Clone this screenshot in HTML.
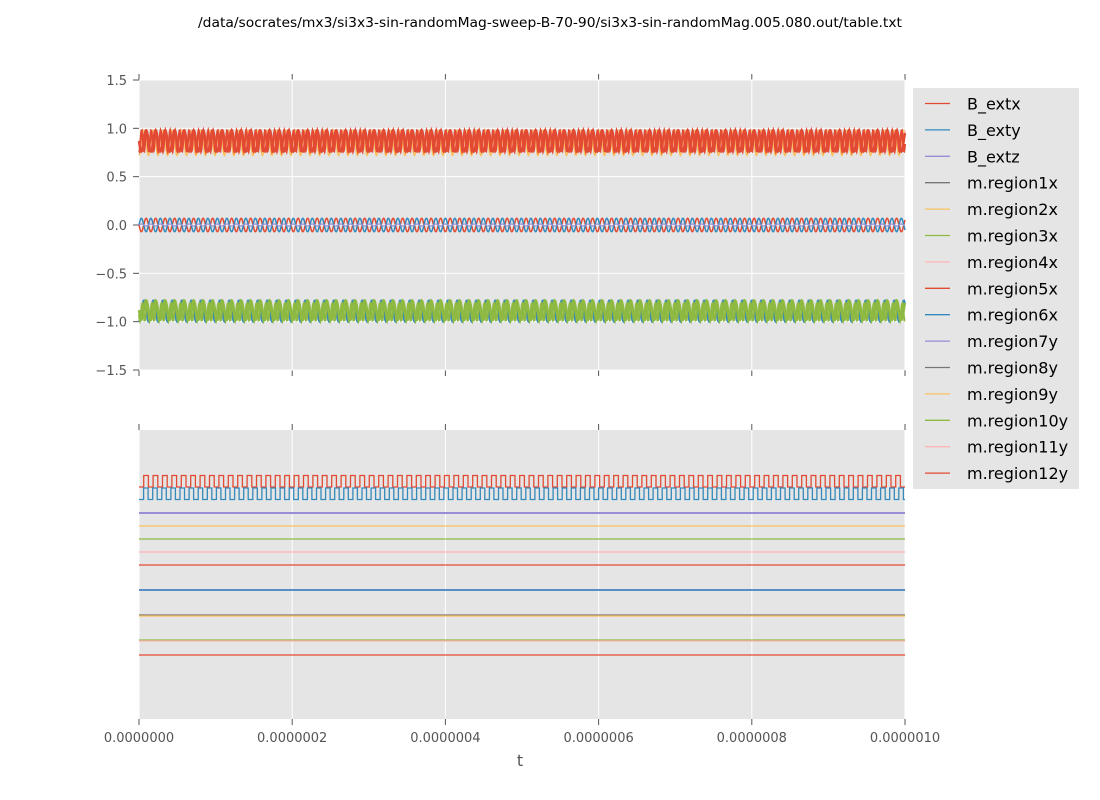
<!DOCTYPE html>
<html><head><meta charset="utf-8"><style>
body{margin:0;background:#fff;}
svg{display:block;font-family:"DejaVu Sans","Liberation Sans",sans-serif;}
</style></head><body>
<svg id="s" width="1100" height="800" xmlns="http://www.w3.org/2000/svg">
<text x="550" y="27" font-size="13" text-anchor="middle" textLength="704" lengthAdjust="spacingAndGlyphs">/data/socrates/mx3/si3x3-sin-randomMag-sweep-B-70-90/si3x3-sin-randomMag.005.080.out/table.txt</text>
<rect x="139" y="80" width="766" height="290" fill="#e5e5e5"/>
<rect x="139" y="430" width="766" height="289" fill="#e5e5e5"/>
<g id="g"></g>
<text x="520" y="766" font-size="16" fill="#555" text-anchor="middle">t</text>
</svg>
<script>
const g=document.getElementById('g');let h='';
const X0=139,X1=905;
const xs=[139,292.2,445.4,598.6,751.8,905];
const xl=['0.0000000','0.0000002','0.0000004','0.0000006','0.0000008','0.0000010'];
xs.forEach((x,i)=>{
 h+=`<line x1="${x}" y1="80" x2="${x}" y2="370" stroke="#fff"/>`;
 h+=`<line x1="${x}" y1="430" x2="${x}" y2="719" stroke="#fff"/>`;
 h+=`<line x1="${x}" y1="74" x2="${x}" y2="80" stroke="#555"/><line x1="${x}" y1="370" x2="${x}" y2="376" stroke="#555"/>`;
 h+=`<line x1="${x}" y1="424" x2="${x}" y2="430" stroke="#555"/><line x1="${x}" y1="719" x2="${x}" y2="725" stroke="#555"/>`;
 h+=`<text x="${x}" y="742" font-size="13" fill="#555" text-anchor="middle">${xl[i]}</text>`;
});
const yv=[1.5,1,0.5,0,-0.5,-1,-1.5],yl=['1.5','1.0','0.5','0.0','\u22120.5','\u22121.0','\u22121.5'];
const Y=v=>225-v*96.67;
yv.forEach((v,i)=>{const y=Y(v);
 h+=`<line x1="139" y1="${y}" x2="905" y2="${y}" stroke="#fff"/><line x1="133" y1="${y}" x2="139" y2="${y}" stroke="#555"/>`;
 h+=`<text x="127" y="${y+5}" font-size="13" fill="#555" text-anchor="end">${yl[i]}</text>`;});
function poly(f,c,w,step=0.5){let p=[];for(let x=X0;x<=X1;x+=step)p.push(x.toFixed(1)+','+f(x).toFixed(1));return `<polyline points="${p.join(' ')}" fill="none" stroke="${c}" stroke-width="${w||1.2}"/>`;}
const P=9.5,T=x=>2*Math.PI*(x-X0)/P;
// lower band
h+=poly(x=>Y(-0.89-0.11*Math.sin(T(x)+1)),'#777777',1.5);
h+=poly(x=>Y(-0.89-0.11*Math.cos(T(x))),'#348ABD',1.8);
h+=poly(x=>Y(-0.88-0.1*Math.sin(T(x))),'#8EBA42',2.5);
h+=poly(x=>Y(-0.9-0.09*Math.sin(2*T(x)+0.3)),'#8EBA42',2);
// middle sines
h+=poly(x=>Y(0.07*Math.sin(T(x)+Math.PI)),'#E24A33',1.5);
h+=poly(x=>Y(0.07*Math.sin(T(x))),'#348ABD',1.5);
h+=poly(x=>Y(0.01*Math.sin(T(x))),'#988ED5',1.2);
// upper band
h+=poly(x=>Y(0.85-0.13*Math.cos(T(x))),'#FBC15E',1.5);
h+=poly(x=>Y(0.88-0.1*Math.sin(T(x)+0.5)),'#FFB5B8',1.5);
h+=poly(x=>Y(0.87-0.11*Math.sin(T(x))),'#E24A33',2.5,0.4);
h+=poly(x=>Y(0.87-0.11*Math.sin(2*T(x)+1.2)),'#E24A33',2,0.4);
// bottom square waves
function sq(yh,yl2,per,c){let p=[];let x=X0,hi=false;while(x<X1){let nx=Math.min(x+per/2,X1);p.push(x.toFixed(1)+','+(hi?yh:yl2));p.push(nx.toFixed(1)+','+(hi?yh:yl2));x=nx;hi=!hi;}return `<polyline points="${p.join(' ')}" fill="none" stroke="${c}" stroke-width="1.3"/>`;}
h+=sq(475.5,487,9.4,'#E24A33');
h+=sq(488,499.5,9.1,'#348ABD');
[[513,'#988ED5',2],[526,'#FBC15E'],[539,'#8EBA42'],[552,'#FFB5B8'],[565,'#E24A33'],[590,'#988ED5',2],[590,'#348ABD'],[615,'#777777'],[616,'#FBC15E'],[640,'#8EBA42'],[641,'#FFB5B8'],[655,'#E24A33']].forEach(a=>{
 h+=`<line x1="139" y1="${a[0]}" x2="905" y2="${a[0]}" stroke="${a[1]}" stroke-width="${a[2]||1.3}"/>`;});
// legend
h+=`<rect x="913" y="88" width="166" height="401" fill="#e5e5e5"/>`;
const names=['B_extx','B_exty','B_extz','m.region1x','m.region2x','m.region3x','m.region4x','m.region5x','m.region6x','m.region7y','m.region8y','m.region9y','m.region10y','m.region11y','m.region12y'];
const cols=['#E24A33','#348ABD','#988ED5','#777777','#FBC15E','#8EBA42','#FFB5B8'];
names.forEach((n,i)=>{const y=103.5+i*26.4;
 h+=`<line x1="925" y1="${y}" x2="950" y2="${y}" stroke="${cols[i%7]}" stroke-width="1.3"/>`;
 h+=`<text x="967" y="${y+6}" font-size="16" fill="#000">${n}</text>`;});
g.innerHTML=h;
</script>
</body></html>
